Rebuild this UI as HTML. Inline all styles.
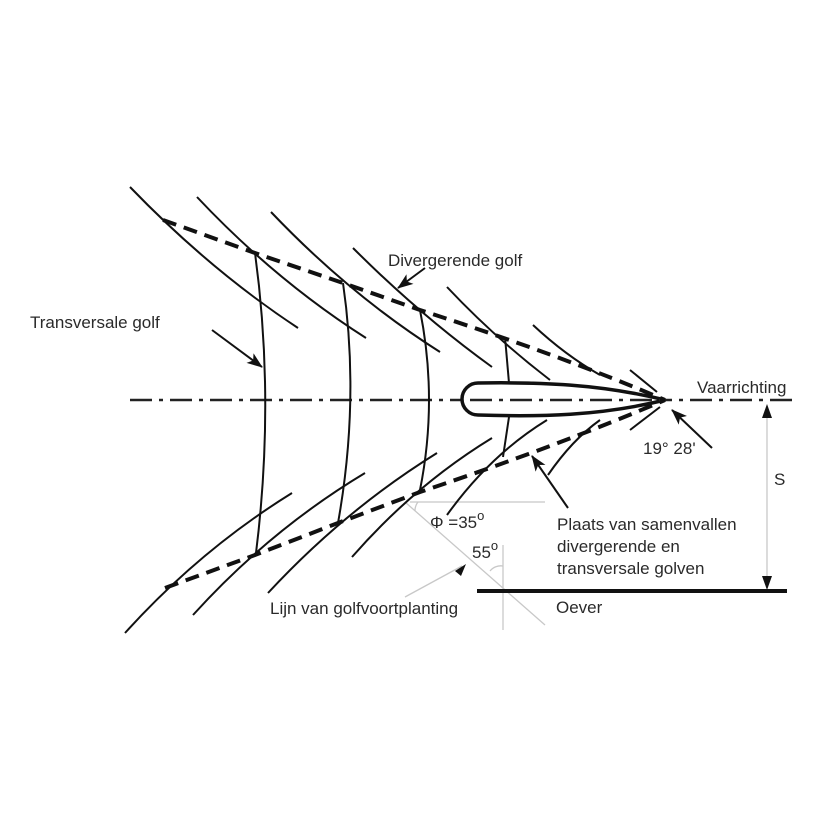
<!DOCTYPE html>
<html><head><meta charset="utf-8"><style>
html,body{margin:0;padding:0;background:#fff;}
svg{display:block;}
text{font-family:"Liberation Sans",sans-serif;font-size:17px;fill:#2a2a2a;}
</style></head><body>
<svg width="824" height="824" viewBox="0 0 824 824" xmlns="http://www.w3.org/2000/svg">
<defs>
<marker id="ah" markerWidth="16" markerHeight="12" refX="15" refY="6" orient="auto" markerUnits="userSpaceOnUse">
<path d="M0,0 L16,6 L0,12 L4,6 Z" fill="#111"/></marker>
</defs>
<g fill="none" stroke="#c8c8c8" stroke-width="1.3">
<line x1="410" y1="502" x2="545" y2="502"/>
<line x1="405" y1="502" x2="545" y2="625"/>
<line x1="503" y1="545" x2="503" y2="630"/>
<path d="M418,502 A14 14 0 0 0 415 511"/>
<path d="M490,571 A14 14 0 0 1 503 566"/>
<line x1="405" y1="597" x2="462" y2="566"/>
<line x1="767" y1="408" x2="767" y2="588"/>
</g>
<path d="M455,571 L466,564 L461,576 Z" fill="#111"/>
<path d="M767,404 L762,418 L772,418 Z" fill="#111"/>
<path d="M767,590 L762,576 L772,576 Z" fill="#111"/>
<line x1="130" y1="400" x2="795" y2="400" stroke="#222" stroke-width="2.4" stroke-dasharray="22,7,4,7"/>
<g fill="none" stroke="#111" stroke-width="2">
<path d="M130,187 Q210,270 298,328"/>
<path d="M197,197 Q275,280 366,338"/>
<path d="M271,212 Q350,295 440,352"/>
<path d="M353,248 Q420,315 492,367"/>
<path d="M447,287 Q495,338 550,380"/>
<path d="M533,325 Q565,355 600,375"/>
<path d="M630,370 L657,392"/>
<path d="M125,633 Q200,550 292,493"/>
<path d="M193,615 Q270,530 365,473"/>
<path d="M268,593 Q345,510 437,453"/>
<path d="M352,557 Q415,485 492,438"/>
<path d="M447,515 Q490,455 547,420"/>
<path d="M548,475 Q572,440 600,420"/>
<path d="M630,430 L660,407"/>
<path d="M255,253 Q275,400 256,553"/>
<path d="M343,283 Q360,400 338,523"/>
<path d="M420,310 Q438,400 420,490"/>
<path d="M505,337 L509,383"/>
<path d="M509,417 L503,457"/>
</g>
<g fill="none" stroke="#111" stroke-width="4" stroke-dasharray="14,8">
<path d="M163,220 L255,253 L343,283 L420,310 Q560,355 665,400"/>
<path d="M165,588 L255,555 L338,523 L420,492 Q560,445 665,400"/>
</g>
<path d="M665,400 C600,384 540,382 478,383 A16 16 0 0 0 478,415 C540,417 600,416 665,400 Z" fill="#fff" stroke="#111" stroke-width="3.5"/>
<line x1="470" y1="400" x2="660" y2="400" stroke="#222" stroke-width="2.4" stroke-dasharray="22,7,4,7"/>
<line x1="477" y1="591" x2="787" y2="591" stroke="#111" stroke-width="4"/>
<g stroke="#111" stroke-width="2" fill="none">
<line x1="212" y1="330" x2="262" y2="367" marker-end="url(#ah)"/>
<line x1="425" y1="268" x2="398" y2="288" marker-end="url(#ah)"/>
<line x1="712" y1="448" x2="672" y2="410" marker-end="url(#ah)"/>
<line x1="568" y1="508" x2="532" y2="456" marker-end="url(#ah)"/>
</g>
<text x="388" y="266">Divergerende golf</text>
<text x="30" y="328">Transversale golf</text>
<text x="697" y="393">Vaarrichting</text>
<text x="643" y="454">19° 28'</text>
<text x="774" y="485">S</text>
<text x="557" y="530">Plaats van samenvallen</text>
<text x="557" y="552">divergerende en</text>
<text x="557" y="574">transversale golven</text>
<text x="556" y="613">Oever</text>
<text x="430" y="528">Φ =35<tspan dy="-8" font-size="13">o</tspan></text>
<text x="472" y="558">55<tspan dy="-8" font-size="13">o</tspan></text>
<text x="270" y="614">Lijn van golfvoortplanting</text>
</svg>
</body></html>
